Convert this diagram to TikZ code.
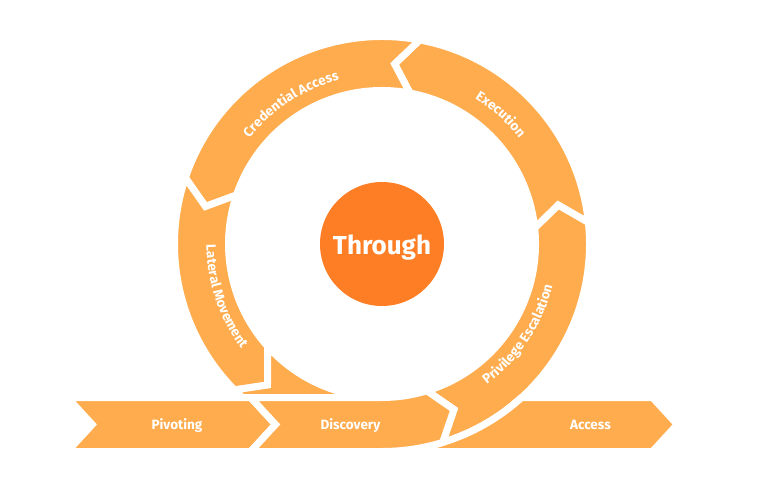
\documentclass[tikz,border=0pt]{standalone}
\usepackage{fontspec}
\setmainfont{Fira Sans}
\usepackage{tikz}
\usetikzlibrary{decorations.text}
\definecolor{ringorange}{HTML}{FEAC4E}
\definecolor{coreorange}{HTML}{FD7E24}
\newcommand{\bandfont}{\fontsize{13.5}{16}\selectfont\bfseries\color{white}}

\begin{document}
\begin{tikzpicture}[
		x=1pt,y=1pt,
		band/.style={fill=ringorange,draw=white,line width=7pt,line join=miter},
		tag/.style={text=white,font=\bandfont,anchor=base,inner sep=0pt},
		core/.style={circle,fill=coreorange,minimum size=124pt,inner sep=0pt},
		curved/.style={decorate,decoration={text along path,text align=center,text={|\bandfont|#1}}}
		]
		\useasboundingbox (-382,-259) rectangle (388,244);
		% ring segments, counterclockwise
		\path[band] (-73:153.5) arc[start angle=-73,end angle=6,radius=153.5] -- (12.5:180.5) -- (6:207.5) arc[start angle=6,end angle=-73,radius=207.5] -- (-66.5:180.5) -- cycle;
		\path[band] (6:153.5) arc[start angle=6,end angle=79.5,radius=153.5] -- (86:180.5) -- (79.5:207.5) arc[start angle=79.5,end angle=6,radius=207.5] -- (12.5:180.5) -- cycle;
		\path[band] (79.5:153.5) arc[start angle=79.5,end angle=161.4,radius=153.5] -- (168:180.5) -- (161.4:207.5) arc[start angle=161.4,end angle=79.5,radius=207.5] -- (86:180.5) -- cycle;
		\path[band] (161.4:153.5) arc[start angle=161.4,end angle=221.8,radius=153.5] -- (-114.5,-141) -- (224.7:207.5) arc[start angle=224.7,end angle=161.4,radius=207.5] -- (168:180.5) -- cycle;
		\path[band] (221.8:153.5) -- (-114.5,-141) -- (224.7:207.5) arc[start angle=224.7,end angle=275,radius=207.5] -- (275:153.5) arc[start angle=275,end angle=221.8,radius=153.5] -- cycle;
		% straight bands
		\path[band] (139.6,-153.5) -- (270.5,-153.5) -- (295.3,-180.5) -- (270.5,-207.5) -- (0,-207.5) arc[start angle=-90,end angle=-47.7,radius=207.5] -- cycle;
		\path[band] (-314.6,-153.5) -- (-131.3,-153.5) -- (-106.5,-180.5) -- (-131.3,-207.5) -- (-314.6,-207.5) -- (-289.8,-180.5) -- cycle;
		\path[band] (-131.3,-153.5) -- (0,-153.5) arc[start angle=-90,end angle=-73,radius=153.5] -- (-66.5:180.5) -- (-73:207.5) arc[start angle=-73,end angle=-90,radius=207.5] -- (-131.3,-207.5) -- (-106.5,-180.5) -- cycle;
		% labels
		\path[curved=Credential Access] (160:169.5) arc[start angle=160,end angle=86,radius=169.5];
		\path[curved=Execution] (85:173) arc[start angle=85,end angle=10,radius=173];
		\path[curved=Lateral Movement] (160:175.5) arc[start angle=160,end angle=237,radius=175.5];
		\path[curved=Privilege Escalation] (-75:175.5) arc[start angle=-75,end angle=8,radius=175.5];
		\node[tag] (pivoting) at (-205,-185.5) {Pivoting};
		\node[tag] (discovery) at (-31.5,-185.5) {Discovery};
		\node[tag] (access) at (208.5,-185.5) {Access};
		\node[core] (hub) at (0,0) {};
		\node[tag,font=\fontsize{26}{31}\selectfont\bfseries] (through) at (0,-11) {Through};
	\end{tikzpicture}
\end{document}
